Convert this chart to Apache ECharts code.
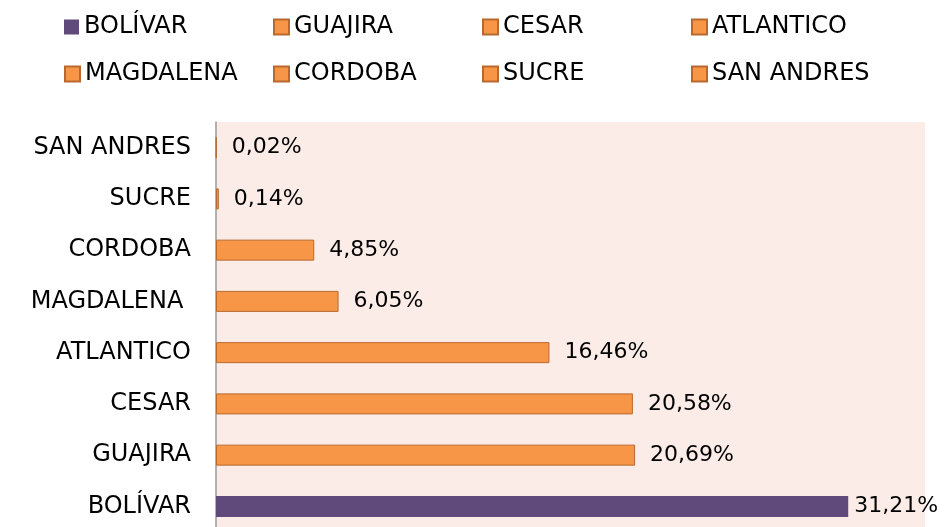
<!DOCTYPE html>
<html>
<head>
<meta charset="utf-8">
<script src="https://cdn.jsdelivr.net/npm/echarts@6/dist/echarts.min.js"></script>
<style>
html,body{margin:0;padding:0;background:#fff;overflow:hidden;}
#chart{width:947px;height:545px;}
</style>
</head>
<body>
<div id="chart"></div>
<script>
var categories = ['BOLÍVAR', 'GUAJIRA', 'CESAR', 'ATLANTICO', 'MAGDALENA', 'CORDOBA', 'SUCRE', 'SAN ANDRES'];
var axisLabels = ['BOLÍVAR', 'GUAJIRA', 'CESAR', 'ATLANTICO', 'MAGDALENA ', 'CORDOBA', 'SUCRE', 'SAN ANDRES'];
var values = [31.21, 20.69, 20.58, 16.46, 6.05, 4.85, 0.14, 0.02];

var FONT = 'DejaVu Sans';
var ORANGE = '#F79646', ORANGE_BORDER = '#B9692E', PURPLE = '#604A7B';

var series = categories.map(function (name, i) {
  var data = categories.map(function (_, j) {
    if (j !== i) return null;
    if (i === 0) return { value: values[j], label: { distance: 6 } };
    return values[j];
  });
  return {
    name: name,
    type: 'bar',
    stack: 'all',
    barWidth: 21,
    data: data,
    itemStyle: i === 0
      ? { color: PURPLE, borderColor: PURPLE, borderWidth: 0 }
      : { color: ORANGE, borderColor: ORANGE_BORDER, borderWidth: 1 },
    label: {
      show: true,
      position: 'right',
      distance: 15,
      color: '#000',
      fontFamily: FONT,
      fontSize: 22,
      formatter: function (p) { return p.value.toFixed(2).replace('.', ',') + '%'; }
    },
    emphasis: { disabled: true }
  };
});

var colLefts = [64, 273, 482, 691];
var rowTops = [14, 61];
var legends = categories.map(function (name, i) {
  return {
    data: [name],
    left: colLefts[i % 4],
    top: rowTops[Math.floor(i / 4)],
    padding: 0,
    itemWidth: 15,
    itemHeight: 15,
    itemGap: 3,
    icon: 'rect',
    selectedMode: false,
    textStyle: { fontFamily: FONT, fontSize: 24, color: '#000', lineHeight: 26 }
  };
});

var chart = echarts.init(document.getElementById('chart'));
chart.setOption({
  backgroundColor: '#fff',
  animation: false,
  legend: legends,
  grid: {
    left: 216, right: 22, top: 122, height: 410,
    show: true, backgroundColor: '#FBECE7', borderWidth: 0
  },
  xAxis: {
    type: 'value', min: 0, max: 35,
    axisLine: { show: false }, axisTick: { show: false },
    axisLabel: { show: false }, splitLine: { show: false }
  },
  yAxis: {
    type: 'category',
    data: axisLabels,
    axisLine: { show: true, lineStyle: { color: '#9A9A9A', width: 1.5 } },
    axisTick: { show: false },
    axisLabel: { color: '#000', fontFamily: FONT, fontSize: 24, margin: 25 }
  },
  series: series
});
</script>
</body>
</html>
